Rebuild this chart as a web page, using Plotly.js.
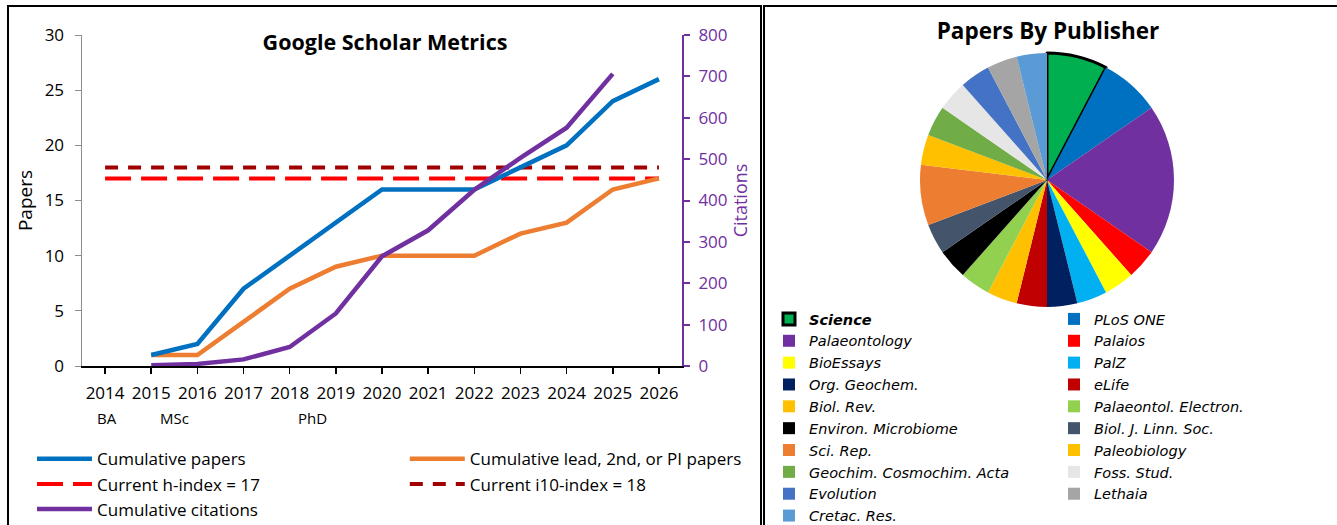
<!DOCTYPE html>
<html>
<head>
<meta charset="utf-8">
<script src="https://cdn.plot.ly/plotly-3.0.1.min.js"></script>
<style>
  body { margin:0; width:1337px; height:525px; overflow:hidden; background:#fff; position:relative; }
  #left { position:absolute; left:0; top:0; width:762px; height:525px; }
  #right { position:absolute; left:762px; top:0; width:575px; height:525px; }
  .frame { position:absolute; border:2px solid #000; box-sizing:border-box; pointer-events:none; }
</style>
</head>
<body>
<div id="left"></div>
<div id="right"></div>
<div class="frame" style="left:7px;top:5px;width:755px;height:560px;"></div>
<div class="frame" style="left:763px;top:5px;width:600px;height:560px;"></div>
<script>
// ---------- Left chart data ----------
const years = ['2014','2015','2016','2017','2018','2019','2020','2021','2022','2023','2024','2025','2026'];
const cumulativePapers = [null, 1, 2, 7, 10, 13, 16, 16, 16, 18, 20, 24, 26];
const cumulativeLead   = [null, 1, 1, 4, 7, 9, 10, 10, 10, 12, 13, 16, 17];
const cumulativeCitations = [null, 2, 5, 16, 46, 127, 265, 328, 426, 503, 576, 706, null];
const hIndex  = [17, 17, 17, 17, 17, 17, 17, 17, 17, 17, 17, 17, 17];
const i10Index = [18, 18, 18, 18, 18, 18, 18, 18, 18, 18, 18, 18, 18];
const seriesNames = ['Cumulative papers', 'Cumulative lead, 2nd, or PI papers', 'Current h-index = 17', 'Current i10-index = 18', 'Cumulative citations'];
const degreeLabels = ['BA', 'MSc', 'PhD'];

// ---------- Right chart data ----------
const publishers = ['Science', 'PLoS ONE', 'Palaeontology', 'Palaios', 'BioEssays', 'PalZ', 'Org. Geochem.', 'eLife',
  'Biol. Rev.', 'Palaeontol. Electron.', 'Environ. Microbiome', 'Biol. J. Linn. Soc.', 'Sci. Rep.', 'Paleobiology',
  'Geochim. Cosmochim. Acta', 'Foss. Stud.', 'Evolution', 'Lethaia', 'Cretac. Res.'];
const paperCounts = [2, 2, 5, 1, 1, 1, 1, 1, 1, 1, 1, 1, 2, 1, 1, 1, 1, 1, 1];
const publisherColors = ['#00B050', '#0070C0', '#7030A0', '#FF0000', '#FFFF00', '#00B0F0', '#002060', '#C00000',
  '#FFC000', '#92D050', '#000000', '#44546A', '#ED7D31', '#FFC000', '#70AD47', '#E7E6E6', '#4472C4', '#A5A5A5', '#5B9BD5'];

const FONT = '"Open Sans", Lato, sans-serif';
const LEGEND_FONT = '"DejaVu Sans", "Open Sans", sans-serif';

// ---------- Left chart ----------
const leftTraces = [
  { x: years, y: hIndex, name: seriesNames[2], type: 'scatter', mode: 'lines',
    line: { color: '#FF0000', width: 4, dash: '26px,10px' }, legend: 'legend', legendgroup: 'h', legendrank: 2 },
  { x: years, y: i10Index, name: seriesNames[3], type: 'scatter', mode: 'lines',
    line: { color: '#A00000', width: 4, dash: '13px,10px' }, legend: 'legend2', legendgroup: 'i10', legendrank: 2 },
  { x: years, y: cumulativeLead, name: seriesNames[1], type: 'scatter', mode: 'lines',
    line: { color: '#ED7D31', width: 4.5 }, legend: 'legend2', legendgroup: 'lead', legendrank: 1 },
  { x: years, y: cumulativePapers, name: seriesNames[0], type: 'scatter', mode: 'lines',
    line: { color: '#0070C0', width: 4.5 }, legend: 'legend', legendgroup: 'papers', legendrank: 1 },
  { x: years, y: cumulativeCitations, name: seriesNames[4], type: 'scatter', mode: 'lines', yaxis: 'y2',
    line: { color: '#7030A0', width: 4.5 }, legend: 'legend', legendgroup: 'cit', legendrank: 3 }
];

const legendCommon = {
  orientation: 'v', xanchor: 'left', yanchor: 'top', traceorder: 'grouped', tracegroupgap: 0,
  itemwidth: 55, font: { size: 17, family: FONT, color: '#000' }, bgcolor: 'rgba(0,0,0,0)',
  itemclick: false, itemdoubleclick: false
};

const leftLayout = {
  width: 762, height: 525,
  margin: { l: 82, r: 80, t: 35, b: 159, autoexpand: false },
  paper_bgcolor: 'rgba(0,0,0,0)', plot_bgcolor: 'rgba(0,0,0,0)',
  font: { family: FONT, color: '#000' },
  hovermode: false,
  title: { text: '<b>Google Scholar Metrics</b>', font: { size: 21.5, family: FONT, color: '#000' },
    x: 385 / 762, xanchor: 'center', y: 1 - 42 / 525, yanchor: 'middle' },
  xaxis: { type: 'category', range: [-0.5, 12.5], showline: true, linecolor: '#000', linewidth: 1.5,
    ticks: 'outside', ticklen: 6, tickcolor: '#000', tickwidth: 1.5, tickfont: { size: 17 },
    ticklabelstandoff: 5, showgrid: false, zeroline: false, fixedrange: true },
  yaxis: { range: [0, 30], dtick: 5, showline: true, linecolor: '#8c8c8c', linewidth: 1.5,
    ticks: 'outside', ticklen: 6, tickcolor: '#8c8c8c', tickfont: { size: 17 }, ticklabelstandoff: 7,
    showgrid: false, zeroline: false, fixedrange: true,
    title: { text: 'Papers', font: { size: 19 }, standoff: 7 } },
  yaxis2: { overlaying: 'y', side: 'right', range: [0, 800], dtick: 100, showline: true,
    linecolor: '#7030A0', linewidth: 2, ticks: 'outside', ticklen: 6, tickcolor: '#7030A0', tickwidth: 2,
    tickfont: { size: 17, color: '#7030A0' }, ticklabelstandoff: 5, showgrid: false, zeroline: false, fixedrange: true,
    title: { text: 'Citations', font: { size: 18, color: '#7030A0' }, standoff: 6 } },
  legend: Object.assign({}, legendCommon, { x: -0.0833, y: (365.7 - 441) / 331 }),
  legend2: Object.assign({}, legendCommon, { x: 0.538, y: (365.7 - 441) / 331 }),
  annotations: [
    { text: degreeLabels[0], x: 0.05, xref: 'x', y: -0.158, yref: 'paper', yanchor: 'middle', showarrow: false, font: { size: 15 } },
    { text: degreeLabels[1], x: 1.5, xref: 'x', y: -0.158, yref: 'paper', yanchor: 'middle', showarrow: false, font: { size: 15 } },
    { text: degreeLabels[2], x: 4.5, xref: 'x', y: -0.158, yref: 'paper', yanchor: 'middle', showarrow: false, font: { size: 15 } }
  ]
};

Plotly.newPlot('left', leftTraces, leftLayout, { displayModeBar: false, staticPlot: true });

// ---------- Right chart ----------
const lineWidths = publishers.map((p, i) => i === 0 ? 3 : 0);
const lineColors = publishers.map(() => '#000');
const displayLabels = publishers.map((p, i) => i === 0 ? '<b>' + p + '</b>' : p);

const pieTrace = {
  type: 'pie', labels: displayLabels, values: paperCounts, sort: false, direction: 'clockwise', rotation: 0,
  marker: { colors: publisherColors, line: { width: lineWidths, color: lineColors } },
  textinfo: 'none', hoverinfo: 'none',
  domain: { x: [(285 - 127) / 575, (285 + 127) / 575], y: [(525 - 307) / 525, (525 - 53) / 525] }
};

const rightLayout = {
  width: 575, height: 525,
  margin: { l: 0, r: 0, t: 0, b: 0, autoexpand: false },
  paper_bgcolor: 'rgba(0,0,0,0)',
  font: { family: FONT, color: '#000' },
  hovermode: false,
  title: { text: '<b>Papers By Publisher</b>', font: { size: 22.5, family: FONT, color: '#000' },
    x: 286 / 575, xanchor: 'center', y: 1 - 31 / 525, yanchor: 'middle' },
  showlegend: true,
  legend: { orientation: 'h', xanchor: 'left', x: 7 / 575, yanchor: 'top', y: (525 - 303) / 525,
    entrywidth: 240, entrywidthmode: 'pixels', traceorder: 'normal',
    font: { size: 14.5, family: LEGEND_FONT, style: 'italic', color: '#000' }, bgcolor: 'rgba(0,0,0,0)',
    itemclick: false, itemdoubleclick: false }
};

Plotly.newPlot('right', [pieTrace], rightLayout, { displayModeBar: false, staticPlot: true });
</script>
</body>
</html>
